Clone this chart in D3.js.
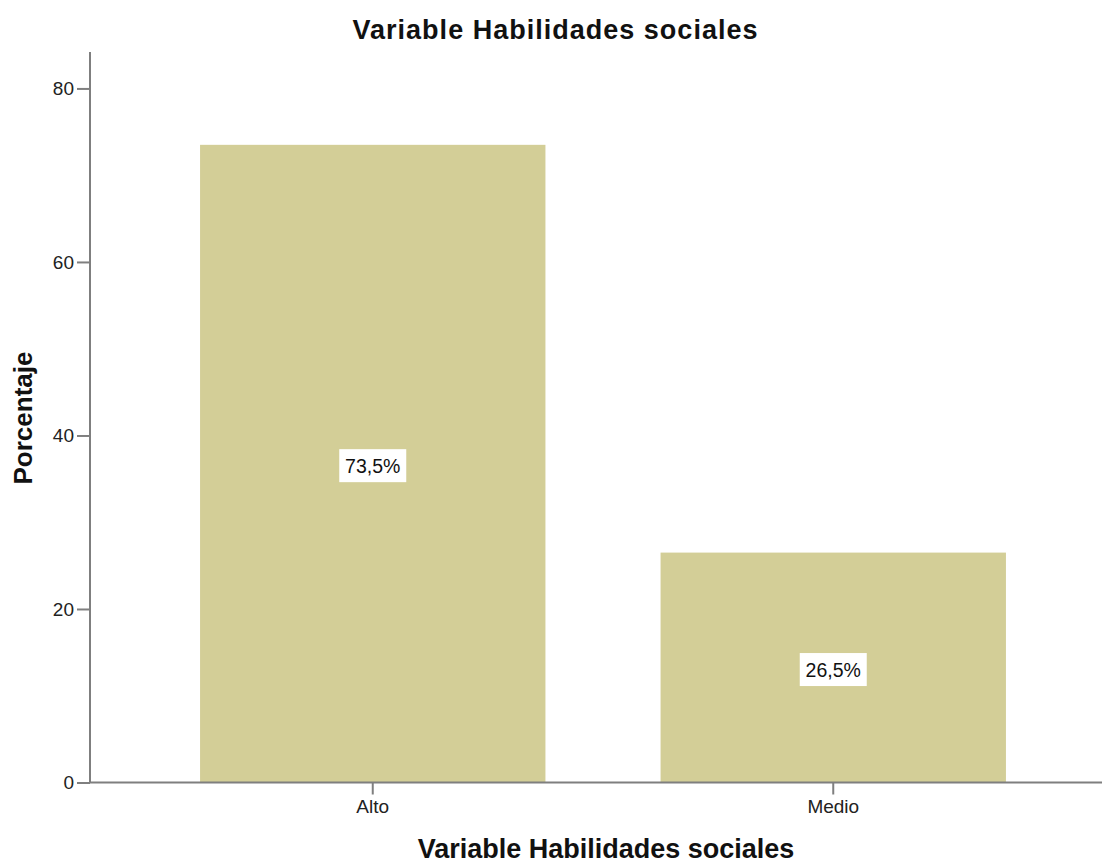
<!DOCTYPE html>
<html>
<head>
<meta charset="utf-8">
<script src="https://cdn.jsdelivr.net/npm/d3@7"></script>
<style>
  html, body { margin: 0; padding: 0; background: #fff; }
  svg { display: block; font-family: Arial, "Liberation Sans", sans-serif; }
</style>
</head>
<body>
<svg id="chart" width="1102" height="862"></svg>
<script>
const categories = ["Alto", "Medio"];
const values = [73.5, 26.5];
const valueLabels = ["73,5%", "26,5%"];
const yTicks = [0, 20, 40, 60, 80];
const chartTitle = "Variable Habilidades sociales";
const xTitle = "Variable Habilidades sociales";
const yTitle = "Porcentaje";

const svg = d3.select("#chart");
const x0 = 90, x1 = 1116, yTop = 52, yBase = 782.5;

const y = d3.scaleLinear().domain([0, 84.2]).range([yBase, yTop]);
const x = d3.scaleBand().domain(categories).range([x0, x1]).paddingInner(0.25).paddingOuter(0.239);

// bars
svg.append("g").selectAll("rect").data(categories).join("rect")
  .attr("x", d => x(d))
  .attr("width", x.bandwidth())
  .attr("y", (d, i) => y(values[i]))
  .attr("height", (d, i) => y(0) - y(values[i]))
  .attr("fill", "#d3ce97");

// y axis
const yAxis = svg.append("g").attr("transform", `translate(${x0},0)`)
  .call(d3.axisLeft(y).tickValues(yTicks).tickSize(13).tickPadding(3).tickFormat(d3.format("d")));
yAxis.select(".domain").attr("d", `M0,${yTop}V${yBase}`);
yAxis.selectAll("line, path").attr("stroke", "#7f7f7f").attr("stroke-width", 2);
yAxis.selectAll("text").attr("font-size", 19).attr("fill", "#222").attr("font-family", null);

// x axis
const xAxis = svg.append("g").attr("transform", `translate(0,${yBase})`)
  .call(d3.axisBottom(x).tickSize(12).tickPadding(5).tickSizeOuter(0));
xAxis.select(".domain").attr("d", `M${x0},0H1102`);
xAxis.selectAll("line, path").attr("stroke", "#7f7f7f").attr("stroke-width", 2);
xAxis.selectAll("text").attr("font-size", 19).attr("fill", "#222").attr("font-family", null);

// value labels
const lbl = svg.append("g").selectAll("g").data(categories).join("g")
  .attr("transform", (d, i) => `translate(${x(d) + x.bandwidth() / 2},${y(values[i] / 2) + 2})`);
lbl.append("rect")
  .attr("x", -33.5).attr("y", -16.5).attr("width", 67).attr("height", 33)
  .attr("fill", "#fff");
lbl.append("text")
  .attr("text-anchor", "middle").attr("dy", "0.36em")
  .attr("font-size", 19.5).attr("fill", "#111")
  .text((d, i) => valueLabels[i]);

// titles
svg.append("text").attr("x", 555).attr("y", 38.5)
  .attr("text-anchor", "middle").attr("font-weight", "bold").attr("font-size", 27).attr("fill", "#111")
  .attr("textLength", 405).attr("lengthAdjust", "spacing")
  .text(chartTitle);
svg.append("text").attr("x", 606).attr("y", 857.5)
  .attr("text-anchor", "middle").attr("font-weight", "bold").attr("font-size", 27).attr("fill", "#111")
  .text(xTitle);
svg.append("text").attr("transform", "translate(32,418) rotate(-90)")
  .attr("text-anchor", "middle").attr("font-weight", "bold").attr("font-size", 26).attr("fill", "#111")
  .text(yTitle);
</script>
</body>
</html>
